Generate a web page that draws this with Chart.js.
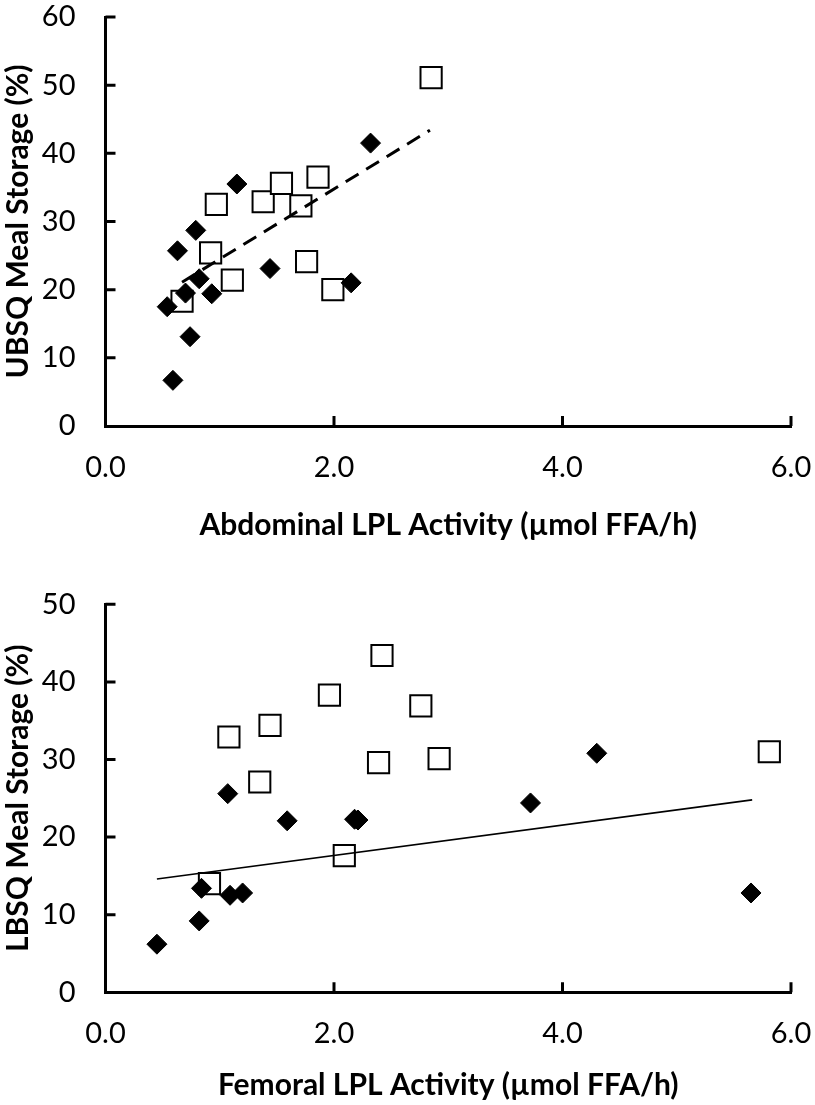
<!DOCTYPE html>
<html>
<head>
<meta charset="utf-8">
<script src="https://cdn.jsdelivr.net/npm/chart.js@4.4.1/dist/chart.umd.min.js"></script>
<style>
  html, body { margin:0; padding:0; background:#fff; }
  body { width:815px; height:1105px; position:relative; overflow:hidden; }
  canvas { position:absolute; left:0; }
  #abdChart { top:0; }
  #femChart { top:565px; }
</style>
</head>
<body>
<canvas id="abdChart" width="815" height="560"></canvas>
<canvas id="femChart" width="815" height="540"></canvas>
<script>
// ── data ──
const xTicks = [0, 2, 4, 6];

// abdominal (top panel)
const abdDiamondX = [2.32, 1.15, 0.79, 0.63, 0.82, 0.70, 0.93, 0.54, 0.74, 0.59, 1.44, 2.15];
const abdDiamondY = [41.5, 35.5, 28.7, 25.7, 21.6, 19.5, 19.4, 17.5, 13.1, 6.7, 23.1, 21.0];
const abdSquareX  = [0.97, 0.92, 1.11, 0.67, 1.38, 1.54, 1.71, 1.86, 1.76, 1.99, 2.85];
const abdSquareY  = [32.5, 25.4, 21.4, 18.3, 32.9, 35.6, 32.3, 36.5, 24.1, 20.0, 51.1];
const abdTrendX   = [0.67, 2.84];
const abdTrendY   = [21.1, 43.4];

// femoral (bottom panel)
const femDiamondX = [0.45, 0.82, 0.84, 1.09, 1.20, 1.07, 1.59, 2.18, 2.21, 3.72, 4.30, 5.65];
const femDiamondY = [6.2, 9.2, 13.4, 12.5, 12.8, 25.6, 22.1, 22.3, 22.2, 24.4, 30.8, 12.8];
const femSquareX  = [1.08, 1.44, 1.35, 1.96, 2.42, 2.39, 2.09, 0.91, 2.76, 2.92, 5.81];
const femSquareY  = [32.9, 34.4, 27.1, 38.3, 43.4, 29.6, 17.6, 14.0, 36.9, 30.1, 31.0];
const femTrendX   = [0.45, 5.66];
const femTrendY   = [14.6, 24.8];

const pts = (xs, ys) => xs.map((x, i) => ({x, y: ys[i]}));

const FONT = 'Lato, "Open Sans", sans-serif';

// tick marks drawn inside the plot, like the original
const innerTicks = {
  id: 'innerTicks',
  afterDatasetsDraw(chart) {
    const {ctx, chartArea, scales: {x, y}} = chart;
    ctx.save();
    ctx.strokeStyle = '#000';
    ctx.lineWidth = 3;
    ctx.beginPath();
    x.ticks.forEach(t => {
      if (t.value === 0) return;
      const px = x.getPixelForValue(t.value);
      ctx.moveTo(px, chartArea.bottom);
      ctx.lineTo(px, chartArea.bottom - 10);
    });
    y.ticks.forEach(t => {
      if (t.value === 0) return;
      const py = y.getPixelForValue(t.value);
      ctx.moveTo(chartArea.left, py);
      ctx.lineTo(chartArea.left + 10, py);
    });
    ctx.stroke();
    ctx.restore();
  }
};

function makeChart(id, cfg) {
  const ctx = document.getElementById(id).getContext('2d');
  return new Chart(ctx, {
    type: 'scatter',
    data: {
      datasets: [
        { type:'line', data: pts(cfg.trendX, cfg.trendY), showLine:true, pointRadius:0,
          borderColor:'#000', borderWidth: cfg.trendWidth, borderDash: cfg.trendDash, fill:false },
        { data: pts(cfg.diamondX, cfg.diamondY), pointStyle:'rectRot', pointRadius:10,
          backgroundColor:'#000', borderColor:'#000', borderWidth:1 },
        { data: pts(cfg.squareX, cfg.squareY), pointStyle:'rect', pointRadius:15,
          backgroundColor:'#fff', borderColor:'#000', borderWidth:2 }
      ]
    },
    options: {
      responsive:false, animation:false, devicePixelRatio:1,
      layout:{ padding:{ top:cfg.padTop, right:24, left:0, bottom:0 } },
      plugins:{ legend:{display:false}, tooltip:{enabled:false} },
      scales:{
        x:{
          type:'linear', min:0, max:6,
          afterBuildTicks: s => { s.ticks = xTicks.map(v => ({value:v})); },
          afterFit: s => { s.height = cfg.xHeight; s.paddingLeft = 0; s.paddingRight = 0; },
          grid:{ display:false, drawTicks:false },
          border:{ display:true, color:'#000', width:3 },
          ticks:{ color:'#000', padding:cfg.xLabelPad, font:{family:FONT, size:29}, callback: v => v.toFixed(1) },
          title:{ display:true, text:cfg.xTitle, color:'#000', padding:{top:0, bottom:cfg.xTitlePad},
                  font:{family:FONT, size:30, weight:'bold'} }
        },
        y:{
          min:0, max:cfg.yMax,
          ticks:{ stepSize:10, color:'#000', padding:30, font:{family:FONT, size:29} },
          afterFit: s => { s.width = 105.5; s.paddingTop = 0; s.paddingBottom = 0; },
          grid:{ display:false, drawTicks:false },
          border:{ display:true, color:'#000', width:3 },
          title:{ display:true, text:cfg.yTitle, color:'#000', padding:{top:0, bottom:0},
                  font:{family:FONT, size:30, weight:'bold'} }
        }
      }
    },
    plugins:[innerTicks]
  });
}

makeChart('abdChart', {
  diamondX:abdDiamondX, diamondY:abdDiamondY, squareX:abdSquareX, squareY:abdSquareY,
  trendX:abdTrendX, trendY:abdTrendY, trendWidth:3, trendDash:[15,9],
  yMax:60, padTop:12, xHeight:134, xLabelPad:24, xTitlePad:17,
  xTitle:'Abdominal LPL Activity (\u00B5mol FFA/h)', yTitle:'UBSQ Meal Storage (%)'
});

makeChart('femChart', {
  diamondX:femDiamondX, diamondY:femDiamondY, squareX:femSquareX, squareY:femSquareY,
  trendX:femTrendX, trendY:femTrendY, trendWidth:1.6, trendDash:[],
  yMax:50, padTop:39.3, xHeight:112.7, xLabelPad:23.5, xTitlePad:2,
  xTitle:'Femoral LPL Activity (\u00B5mol FFA/h)', yTitle:'LBSQ Meal Storage (%)'
});
</script>
</body>
</html>
